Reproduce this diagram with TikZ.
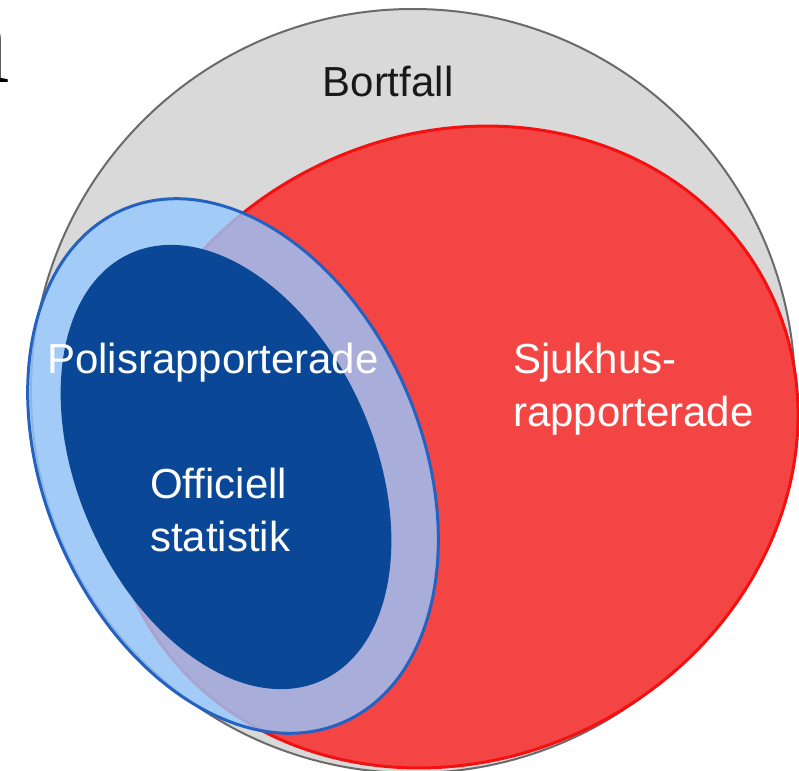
\documentclass[tikz,border=0pt]{standalone}
\usepackage{fontspec}
\setmainfont{Liberation Sans}
\newfontfamily\panelfont{Liberation Serif}
\usepackage{xcolor}
\usepackage{tikz}

\definecolor{bortgrey}{HTML}{D9D9D9}
\definecolor{bortline}{HTML}{6A6A6A}
\definecolor{sjukred}{HTML}{F44545}
\definecolor{sjukline}{HTML}{F41010}
\definecolor{polisblue}{HTML}{96C8FF}
\definecolor{polisline}{HTML}{2462C2}
\definecolor{offblue}{HTML}{0A4797}

\begin{document}
\begin{tikzpicture}[x=1pt,y=-1pt,
                    every node/.style={inner sep=0pt},
                    lab/.style={font=\fontsize{42}{53}\selectfont},
                    set/.style={line width=3pt}]

\useasboundingbox (0,0) rectangle (799,770);

\filldraw[fill=bortgrey,draw=bortline,line width=2pt] (413,391) circle (382);

\filldraw[set,fill=sjukred,draw=sjukline,rotate around={27:(453,447)}]
      (453,447) ellipse [x radius=353,y radius=312];

\filldraw[set,fill=polisblue,fill opacity=0.8,draw=polisline,
          rotate around={23:(233,466)}]
      (233,466) ellipse [x radius=189,y radius=279];

\fill[offblue,rotate around={24:(226,467)}]
      (226,467) ellipse [x radius=148,y radius=234];

\draw node[lab,anchor=base,text=black!90] (bort) at (388,97) {Bortfall}
      node[lab,anchor=base,white] (polis) at (213,373) {Polisrapporterade}
      node[lab,anchor=base west,white] (sjuk) at (513,373)
           {\begin{tabular}[t]{@{}l@{}}Sjukhus-\\
                                         rapporterade\end{tabular}}
      node[lab,anchor=base west,white] (off) at (150,498)
           {\begin{tabular}[t]{@{}l@{}}Officiell\\
                                         statistik\end{tabular}};

\node[font=\panelfont\fontsize{125}{125}\selectfont,anchor=base east] (panel) at (10,83) {a};

\end{tikzpicture}
\end{document}
